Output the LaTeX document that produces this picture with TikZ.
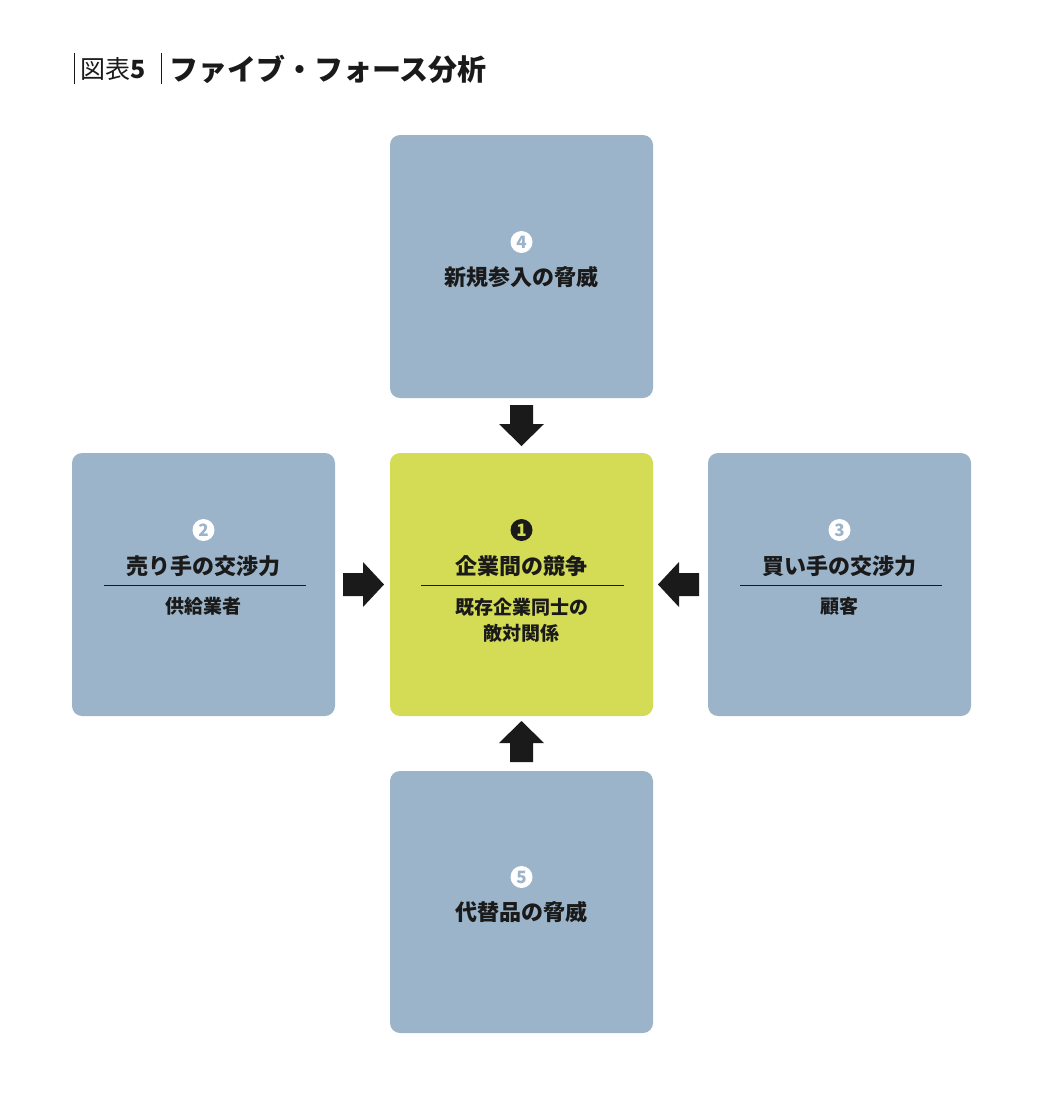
\documentclass[tikz,border=0pt]{standalone}
\usepackage{fontspec}
\setmainfont{Noto Sans CJK JP}
\newfontfamily\jpb{Noto Sans CJK JP}[FakeBold=0]
\definecolor{bg}{HTML}{9BB4C9}
\definecolor{gr}{HTML}{D4DB55}
\definecolor{ink}{HTML}{1A1A1A}
\begin{document}
\begin{tikzpicture}[x=1pt,y=-1pt,
 box/.style={rounded corners=10pt,fill=bg,draw=none},
 num/.style={circle,fill=white,text=bg,inner sep=0pt,minimum size=22pt,font=\fontsize{17}{17}\selectfont\bfseries},
 numc/.style={circle,fill=ink,text=gr,inner sep=0pt,minimum size=22pt,font=\fontsize{17}{17}\selectfont\bfseries},
 head/.style={text=ink,font=\fontsize{22}{24}\selectfont\bfseries},
 sub/.style={text=ink,font=\fontsize{19}{26}\selectfont\bfseries,align=center},
 arr/.style={fill=ink,draw=none}]
\useasboundingbox (0,0) rectangle (1042,1112);
% title
\draw[ink,line width=0.8pt] (74,53) -- (74,84);
\node[anchor=west,inner sep=0,text=ink,font=\fontsize{25}{25}\selectfont] (t1) at (80,69) {図表\textbf{5}};
\draw[ink,line width=0.8pt] (161,53) -- (161,84);
\node[anchor=west,inner sep=0,text=ink,font=\fontsize{29}{29}\selectfont\bfseries] (t2) at (169,69) {ファイブ・フォース分析};
% boxes
\path[box] (390,135) rectangle (653,398);
\path[box] (72,453) rectangle (335,716);
\path[box,fill=gr] (390,453) rectangle (653,716);
\path[box] (708,453) rectangle (971,716);
\path[box] (390,771) rectangle (653,1033);
% top
\node[num] (n4) at (521.5,242) {4};
\node[head] (h4) at (521.5,277) {新規参入の脅威};
% bottom
\node[num] (n5) at (521.5,877) {5};
\node[head] (h5) at (521.5,912) {代替品の脅威};
% left
\node[num] (n2) at (203.5,530) {2};
\node[head] (h2) at (203.5,566) {売り手の交渉力};
\draw[ink,line width=0.7pt] (104,585.5) -- (306,585.5);
\node[sub] (s2) at (203.5,606) {供給業者};
% center
\node[numc] (n1) at (521.5,530) {1};
\node[head] (h1) at (521.5,566) {企業間の競争};
\draw[ink,line width=0.7pt] (421,585.5) -- (624,585.5);
\node[sub] (s1) at (521.5,620) {既存企業同士の\\敵対関係};
% right
\node[num] (n3) at (839.5,530) {3};
\node[head] (h3) at (839.5,566) {買い手の交渉力};
\draw[ink,line width=0.7pt] (740,585.5) -- (942,585.5);
\node[sub] (s3) at (839.5,606) {顧客};
% arrows
\path[arr] (343,573) -- (363,573) -- (363,562) -- (384,584.5) -- (363,607) -- (363,596) -- (343,596) -- cycle;
\path[arr] (699,573) -- (679,573) -- (679,562) -- (658,584.5) -- (679,607) -- (679,596) -- (699,596) -- cycle;
\path[arr] (510,405) -- (533,405) -- (533,424) -- (544,424) -- (521.5,446) -- (499,424) -- (510,424) -- cycle;
\path[arr] (510,762) -- (533,762) -- (533,743) -- (544,743) -- (521.5,721) -- (499,743) -- (510,743) -- cycle;
\end{tikzpicture}
\end{document}
